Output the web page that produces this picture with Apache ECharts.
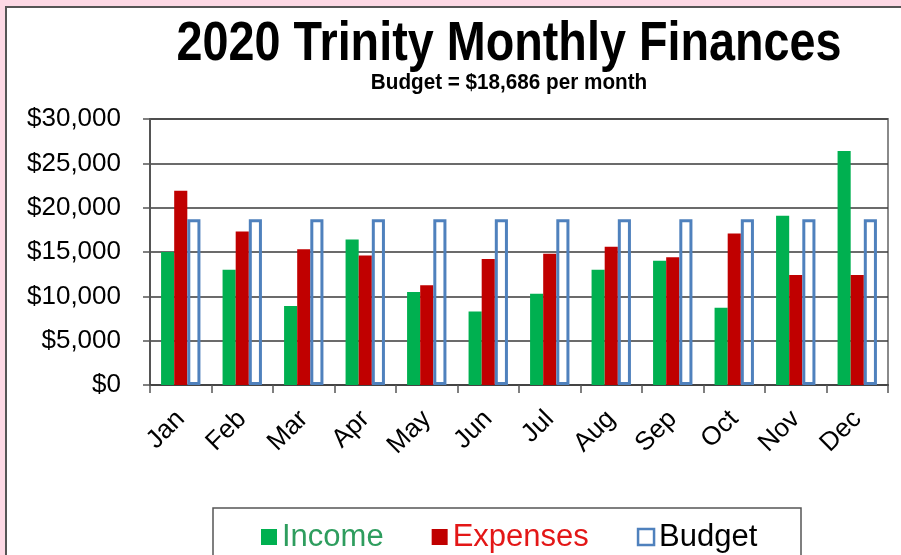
<!DOCTYPE html>
<html>
<head>
<meta charset="utf-8">
<script src="https://cdn.jsdelivr.net/npm/echarts@6/dist/echarts.min.js"></script>
<style>
html, body { margin: 0; padding: 0; background: #fdd9e5; }
#chart { width: 901px; height: 555px; }
</style>
</head>
<body>
<div id="chart"></div>
<script>
var months = ['Jan', 'Feb', 'Mar', 'Apr', 'May', 'Jun', 'Jul', 'Aug', 'Sep', 'Oct', 'Nov', 'Dec'];
var income = [15000, 13000, 8900, 16400, 10500, 8300, 10300, 13000, 14000, 8700, 19100, 26400];
var expenses = [21900, 17300, 15300, 14600, 11250, 14200, 14800, 15600, 14400, 17100, 12400, 12400];
var budget = [18686, 18686, 18686, 18686, 18686, 18686, 18686, 18686, 18686, 18686, 18686, 18686];
var yTickLabels = ['$0', '$5,000', '$10,000', '$15,000', '$20,000', '$25,000', '$30,000'];

var chart = echarts.init(document.getElementById('chart'));
var fontMain = 'Liberation Sans, Arial, sans-serif';

var option = {
    backgroundColor: '#fdd9e5',
    animation: false,
    graphic: [
        {
            // white panel
            type: 'rect',
            z: -10,
            shape: { x: 6, y: 7, width: 1000, height: 700 },
            style: { fill: '#fff', stroke: '#555', lineWidth: 2 }
        },
        {
            // legend frame
            type: 'rect',
            z: -5,
            shape: { x: 213, y: 508, width: 588, height: 80 },
            style: { fill: '#fff', stroke: '#555', lineWidth: 1.5 }
        },
        {
            type: 'text',
            x: 509, y: 45,
            scaleX: 0.85,
            style: {
                text: '2020 Trinity Monthly Finances',
                font: 'bold 55px Liberation Sans',
                fill: '#000',
                align: 'center',
                verticalAlign: 'middle'
            }
        },
        {
            type: 'text',
            x: 509, y: 83,
            scaleX: 0.94,
            style: {
                text: 'Budget = $18,686 per month',
                font: 'bold 22px Liberation Sans',
                fill: '#000',
                align: 'center',
                verticalAlign: 'middle'
            }
        }
    ],
    legend: {
        left: 261,
        top: 517,
        padding: 0,
        itemGap: 48,
        itemWidth: 16,
        itemHeight: 16,
        icon: 'rect',
        textStyle: { fontSize: 31, fontFamily: fontMain, lineHeight: 40 },
        data: [
            { name: 'Income', textStyle: { color: '#2e9d5e' } },
            { name: 'Expenses', textStyle: { color: '#e31717' } },
            { name: 'Budget', textStyle: { color: '#000' },
              itemStyle: { color: '#fff', borderColor: '#4f81bd', borderWidth: 2.5 } }
        ]
    },
    grid: {
        left: 150,
        top: 119,
        right: 13,
        bottom: 170,
        show: true,
        borderColor: '#8a8a8a',
        borderWidth: 2
    },
    xAxis: {
        type: 'category',
        data: months,
        axisLine: { lineStyle: { color: '#444', width: 2 } },
        axisTick: { show: true, length: 8, lineStyle: { color: '#555', width: 1.5 } },
        axisLabel: {
            rotate: 45,
            margin: 30,
            fontSize: 26,
            fontFamily: fontMain,
            color: '#000'
        }
    },
    yAxis: {
        type: 'value',
        min: 0,
        max: 30000,
        interval: 5000,
        axisLine: { show: true, lineStyle: { color: '#555', width: 2 } },
        axisTick: { show: true, length: 7, lineStyle: { color: '#555', width: 1.5 } },
        axisLabel: {
            margin: 29,
            fontSize: 26,
            fontFamily: fontMain,
            color: '#000',
            formatter: function (v) { return yTickLabels[Math.round(v / 5000)]; }
        },
        splitLine: { lineStyle: { color: '#3a3a3a', width: 1.5 } }
    },
    series: [
        {
            name: 'Income',
            type: 'bar',
            data: income,
            barGap: '0%',
            barCategoryGap: '36%',
            itemStyle: { color: '#00b050' }
        },
        {
            name: 'Expenses',
            type: 'bar',
            data: expenses,
            itemStyle: { color: '#c00000' }
        },
        {
            name: 'Budget',
            type: 'bar',
            data: budget,
            itemStyle: { color: 'rgba(255,255,255,0)', borderColor: '#4f81bd', borderWidth: 3 }
        }
    ]
};

chart.setOption(option);
</script>
</body>
</html>
